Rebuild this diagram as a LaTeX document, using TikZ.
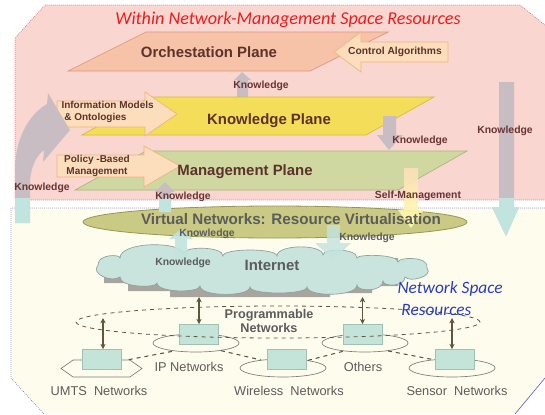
\documentclass[tikz,border=0pt]{standalone}
\usepackage{fontspec}
\setmainfont{Liberation Sans}
\newfontfamily\calfont{Carlito}
\usetikzlibrary{shapes.geometric,shapes.symbols,arrows.meta}

\definecolor{pinkbg}{RGB}{250,214,208}
\definecolor{creambg}{RGB}{254,252,237}
\definecolor{orchfill}{RGB}{246,194,168}
\definecolor{orchedge}{RGB}{222,150,120}
\definecolor{knowfill}{RGB}{244,221,88}
\definecolor{knowedge}{RGB}{214,188,60}
\definecolor{mgmtfill}{RGB}{207,216,160}
\definecolor{mgmtedge}{RGB}{172,180,122}
\definecolor{peachfill}{RGB}{253,222,188}
\definecolor{peachedge}{RGB}{238,178,130}
\definecolor{grayarr}{RGB}{200,189,195}
\definecolor{tealarr}{RGB}{194,228,222}
\definecolor{olivefill}{RGB}{202,202,132}
\definecolor{oliveedge}{RGB}{150,150,90}
\definecolor{cloudfill}{RGB}{200,228,220}
\definecolor{cloudedge}{RGB}{140,160,158}
\definecolor{shadowgray}{RGB}{170,165,156}
\definecolor{boxfill}{RGB}{196,228,218}
\definecolor{boxedge}{RGB}{160,192,182}
\definecolor{netedge}{RGB}{125,125,118}
\definecolor{linkbrown}{RGB}{95,85,65}
\definecolor{planetext}{RGB}{92,50,44}
\definecolor{knowtext}{RGB}{104,52,52}
\definecolor{graytext}{RGB}{92,92,92}
\definecolor{titlered}{RGB}{232,30,30}
\definecolor{spaceblue}{RGB}{42,60,190}

\tikzset{every picture/.style={line width=0.75pt}}
\tikzset{
  planelabel/.style={inner sep=0.75pt, text=planetext, font=\fontsize{11.2}{13}\selectfont\bfseries},
  smalllabel/.style={inner sep=0.75pt, text=knowtext, font=\fontsize{7.8}{9}\selectfont\bfseries},
  netlabel/.style={inner sep=0.75pt, text=graytext, font=\fontsize{9.6}{11}\selectfont},
  netbox/.style={draw=boxedge, fill=boxfill, line width=0.5pt, minimum width=29.25pt, minimum height=15pt, inner sep=0pt},
  netshape/.style={ellipse, draw=netedge, line width=0.5pt, minimum width=64.5pt, minimum height=13.5pt, inner sep=0pt},
  netlink/.style={draw=linkbrown, dashed, line width=0.8pt},
  dblarrow/.style={draw=linkbrown, line width=1.2pt, {Stealth[length=4pt,width=4pt]}-{Stealth[length=4pt,width=4pt]}}
}

\begin{document}
\begin{tikzpicture}[x=0.75pt,y=0.75pt,yscale=-1,xscale=1]
\useasboundingbox (0,0) rectangle (545,414);

%Shape: Network-Management space
\fill [pinkbg] (545,25) -- (520,5) -- (45,5) -- (15,38) -- (15,200) -- (545,200) -- cycle;
\draw [color=red!80!black, draw opacity=0.6, densely dotted, line width=0.5pt] (545,25) -- (520,5) -- (45,5) -- (15,38) -- (15,200) -- (545,200);
%Shape: Network space
\fill [creambg] (545,208) -- (11,208) -- (11,378) -- (44,414) -- (515,414) -- (545,378) -- cycle;
\draw [color=blue!70!black, draw opacity=0.6, densely dotted, line width=0.5pt] (545,208) -- (11,208) -- (11,378) -- (44,414);
\draw [color=blue!70!black, draw opacity=0.6, line width=0.5pt] (515,414) -- (545,378);

%Big arrow: Knowledge down the right side
\fill [grayarr] (499,82) -- (514,82) -- (514,207) -- (519,207) -- (506,236) -- (492,207) -- (499,207) -- cycle;
\begin{scope}
\clip (0,198) rectangle (545,414);
\fill [tealarr] (499,82) -- (514,82) -- (514,207) -- (519,207) -- (506,236) -- (492,207) -- (499,207) -- cycle;
\end{scope}

%Shape: Orchestation plane
\draw [draw=orchedge, fill=orchfill, line width=0.5pt] (146,32) -- (388,32) -- (310,71) -- (68,71) -- cycle;
%Arrow: Control Algorithms
\draw [draw=peachedge, fill=peachfill, line width=0.5pt] (334,52) -- (361,32) -- (361,42) -- (448,42) -- (448,62) -- (361,62) -- (361,72) -- cycle;
%Arrow: Knowledge up to orchestation
\fill [grayarr] (242,72) -- (251,80) -- (248,80) -- (248,100) -- (237,100) -- (237,80) -- (234,80) -- cycle;

%Shape: Knowledge plane
\draw [draw=knowedge, fill=knowfill, line width=0.5pt] (150,97) -- (434,97) -- (366,135) -- (82,135) -- cycle;
%Arrow: Information Models & Ontologies
\draw [draw=peachedge, fill=peachfill, line width=0.5pt] (57,101) -- (145,101) -- (145,92) -- (177,114) -- (145,136) -- (145,127) -- (57,127) -- cycle;
%Arrow: Knowledge down to management
\fill [grayarr] (383,116) -- (396,116) -- (396,135) -- (403,135) -- (389,150) -- (377,135) -- (383,135) -- cycle;

%Shape: Management plane
\draw [draw=mgmtedge, fill=mgmtfill, line width=0.5pt] (146,151) -- (467,151) -- (398,190) -- (75,190) -- cycle;
%Arrow: Policy-Based Management
\draw [draw=peachedge, fill=peachfill, line width=0.5pt] (57,155) -- (144,155) -- (144,146) -- (180,166) -- (144,187) -- (144,177) -- (57,177) -- cycle;

%Arrow: curved Knowledge arrow on the left
\fill [grayarr] (15,223) -- (15,170) .. controls (15,140) and (28,115) .. (47,104) -- (48,93) -- (70,130) -- (43,162) -- (44,150) .. controls (36,156) and (30,168) .. (30,185) -- (30,223) -- cycle;
\begin{scope}
\clip (0,198) rectangle (545,414);
\fill [tealarr] (15,223) -- (15,170) -- (30,170) -- (30,223) -- cycle;
\end{scope}

%Shape: Virtual networks
\draw [draw=oliveedge, fill=olivefill, line width=0.6pt] (275,222) ellipse (192 and 16);
%Arrow: Knowledge up from virtual networks
\fill [grayarr] (165,182) -- (175,192) -- (171,192) -- (171,212) -- (159,212) -- (159,192) -- (155,192) -- cycle;
\begin{scope}
\clip (0,198) rectangle (545,414);
\fill [tealarr] (165,182) -- (175,192) -- (171,192) -- (171,212) -- (159,212) -- (159,192) -- (155,192) -- cycle;
\end{scope}
%Arrow: Self-Management
\shade [top color=peachfill, bottom color=yellow!35, opacity=0.9] (404,168) -- (418,168) -- (418,210) -- (424,210) -- (411,228) -- (398,210) -- (404,210) -- cycle;

%Shape: Internet shadow
\fill [shadowgray] (104,268) -- (104,283) -- (128,283) -- (128,291) -- (170,291) -- (170,297) -- (330,297) -- (330,293) -- (372,293) -- (372,286) -- (398,286) -- (398,258) -- (104,258) -- cycle;
%Shape: Internet cloud
\draw [draw=cloudedge, fill=cloudfill, line width=0.5pt] (98,265)
  .. controls (98,254) and (120,254) .. (120,258)
  .. controls (120,241) and (183,241) .. (183,254)
  .. controls (183,246) and (223,246) .. (223,256)
  .. controls (223,248) and (277,248) .. (277,256)
  .. controls (277,244) and (323,244) .. (323,255)
  .. controls (323,248) and (357,248) .. (357,258)
  .. controls (357,254) and (398,254) .. (398,262)
  .. controls (398,257) and (430,256) .. (427,268)
  .. controls (434,276) and (410,283) .. (405,277)
  .. controls (405,287) and (383,287) .. (383,281)
  .. controls (383,292) and (357,292) .. (357,285)
  .. controls (357,297) and (307,297) .. (307,287)
  .. controls (307,295) and (250,295) .. (250,287)
  .. controls (250,297) and (200,297) .. (200,286)
  .. controls (200,293) and (157,293) .. (157,283)
  .. controls (157,288) and (120,288) .. (120,277)
  .. controls (112,283) and (90,274) .. (98,265) -- cycle;
%Arrow: Knowledge up from internet
\fill [tealarr, opacity=0.9] (181,229) -- (193,239) -- (187,239) -- (187,258) -- (175,258) -- (175,239) -- (169,239) -- cycle;
%Arrow: Knowledge down into internet
\fill [tealarr, opacity=0.8] (327,225) -- (340,225) -- (340,243) -- (351,243) -- (333,260) -- (315,243) -- (327,243) -- cycle;

%Shapes: networks
\node (umts) [signal, signal to=west and east, signal pointer angle=70, draw=netedge, line width=0.5pt, minimum width=60.75pt, minimum height=12.75pt, inner sep=0pt] at (101.5,368.5) {};
\node (ipnet) [netshape] at (196,343) {};
\node (othnet) [netshape] at (365,343) {};
\node (wlnet) [netshape] at (283,368) {};
\node (sensnet) [netshape] at (452,368) {};
\draw [netlink] (umts.18) -- (ipnet.200);
\draw [netlink] (ipnet.343) -- (wlnet.160);
\draw [netlink] (wlnet.17) -- (othnet.201);
\draw [netlink] (othnet.341) -- (sensnet.156);
\node (umtsbox) [netbox] at (101.5,359.5) {};
\node (ipbox) [netbox] at (199,334.5) {};
\node (othbox) [netbox] at (362.5,334.5) {};
\node (wlbox) [netbox] at (286.5,359.5) {};
\node (sensbox) [netbox] at (454.5,359.5) {};
%Shape: Programmable networks
\node (prog) [ellipse, draw=linkbrown, dashed, line width=0.6pt, minimum width=303pt, minimum height=24pt, inner sep=0pt] at (278,322) {};

%Double arrows
\coordinate (ipup) at (199,297);
\coordinate (othup) at (362.5,297);
\coordinate (umtsup) at (103,318);
\coordinate (sensup) at (452,318);
\draw [dblarrow] (ipup) -- (ipbox.north);
\draw [dblarrow] (othup) -- (othbox.north);
\draw [dblarrow] (umtsup) -- (umtsup |- umtsbox.north);
\draw [dblarrow] (sensup) -- (sensup |- sensbox.north);

% Text Node
\node (title) at (288,20) [inner sep=0.75pt, text=titlered, font=\calfont\itshape\fontsize{13.6}{16}\selectfont] {Within Network-Management Space Resources};
% Text Node
\node (orchtext) at (209,52) [planelabel] {Orchestation Plane};
% Text Node
\node (ctrltext) at (395,52) [smalllabel, text=planetext, font=\fontsize{7.7}{9}\selectfont\bfseries] {Control Algorithms};
% Text Node
\node (know1) at (261,86) [smalllabel] {Knowledge};
% Text Node
\node (infotext) at (60,112) [anchor=west, smalllabel, text=planetext, align=left, font=\fontsize{7.5}{9.5}\selectfont\bfseries] {Information Models\\\ \& Ontologies};
% Text Node
\node (knowtext) at (269,121) [planelabel] {Knowledge Plane};
% Text Node
\node (know2) at (505,131) [smalllabel] {Knowledge};
% Text Node
\node (know3) at (420,141) [smalllabel] {Knowledge};
% Text Node
\node (policytext) at (97,166) [smalllabel, text=planetext, align=center, font=\fontsize{7.5}{8.5}\selectfont\bfseries] {Policy -Based\\Management};
% Text Node
\node (mgmttext) at (245,172) [planelabel] {Management Plane};
% Text Node
\node (know4) at (42,188) [smalllabel] {Knowledge};
% Text Node
\node (know5) at (183,197) [smalllabel] {Knowledge};
% Text Node
\node (selftext) at (418,196) [smalllabel] {Self-Management};
% Text Node
\node (vntext) at (291,219) [planelabel, text=graytext, font=\fontsize{11.4}{13}\selectfont\bfseries] {Virtual Networks: Resource Virtualisation};
% Text Node
\node (know6) at (207,234) [smalllabel, text=graytext] {Knowledge};
% Text Node
\node (know7) at (367,238) [smalllabel, text=graytext] {Knowledge};
% Text Node
\node (know8) at (183,263) [smalllabel, text=graytext] {Knowledge};
% Text Node
\node (inettext) at (272,265) [planelabel, text=graytext] {Internet};
% Text Node
\node (spacetext) at (396,299) [anchor=west, inner sep=0.75pt, text=spaceblue, align=left, font=\calfont\itshape\fontsize{13}{16.5}\selectfont] {Network Space\\\ Resources};
% Text Node
\node (progtext) at (269,321) [inner sep=0.75pt, text=graytext, align=center, font=\fontsize{9.5}{10.8}\selectfont\bfseries] {Programmable\\Networks};
% Text Node
\node (iptext) at (189,367) [netlabel] {IP Networks};
% Text Node
\node (othtext) at (363,367) [netlabel] {Others};
% Text Node
\node (umtstext) at (99,391) [netlabel] {UMTS\ \ Networks};
% Text Node
\node (wltext) at (289,391) [netlabel] {Wireless\ \ Networks};
% Text Node
\node (senstext) at (457,391) [netlabel] {Sensor\ \ Networks};

\end{tikzpicture}
\end{document}
